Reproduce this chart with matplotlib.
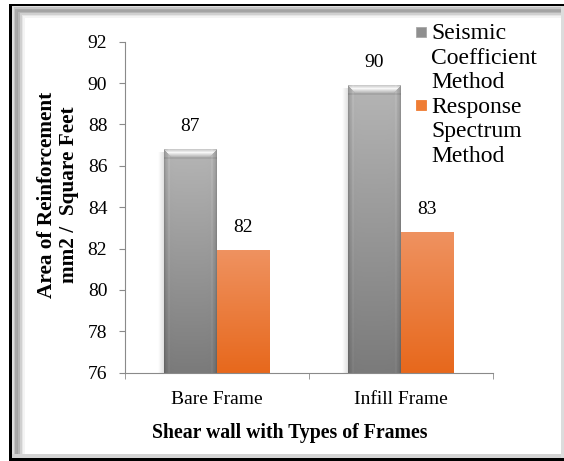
import matplotlib
matplotlib.use("Agg")
import matplotlib.pyplot as plt
import numpy as np
from matplotlib.lines import Line2D
from matplotlib.patches import Rectangle

# chart data
categories = ["Bare Frame", "Infill Frame"]
seismic_coefficient = [86.8, 89.9]
response_spectrum = [81.9, 82.8]
series_lines = [["Seismic", "Coefficient", "Method"], ["Response", "Spectrum", "Method"]]
y_ticks = [76, 78, 80, 82, 84, 86, 88, 90, 92]
x_title = "Shear wall with Types of Frames"
y_title = "Area of Reinforcement\nmm2 /  Square Feet"

W, H = 564, 461
FS = 14
GRAY = "#8f8f8f"
ORANGE = "#ef7d35"
AXIS = "#8a8a8a"

plt.rcParams["font.family"] = ["Liberation Serif", "DejaVu Serif"]
plt.rcParams["font.size"] = FS


def fx(x):
    return x / W


def fy(y):
    return 1 - y / H


def px_rect(x0, y0, x1, y1, color):
    # rectangle in image pixels (origin top-left)
    fig.add_artist(Rectangle((fx(x0), fy(y1)), (x1 - x0) / W, (y1 - y0) / H,
                             transform=fig.transFigure, facecolor=color,
                             edgecolor="none", zorder=0))


def bar_pixels(patch, ylo):
    x0, w = patch.get_x(), patch.get_width()
    y1 = patch.get_y() + patch.get_height()
    p0 = ax.transData.transform((x0, ylo))
    p1 = ax.transData.transform((x0 + w, y1))
    return int(round(p1[0] - p0[0])), int(round(p1[1] - p0[1])), (x0, x0 + w, ylo, y1)


def gray_image(nx, ny):
    t = np.linspace(0, 1, ny)[:, None]
    base = np.repeat(0.71 - 0.23 * t, nx, axis=1)
    xs = np.arange(nx)[None, :]
    d = np.minimum(xs, nx - 1 - xs)
    img = base * (1 - 0.18 * np.exp(-d / 2.0))
    # faint light stripe just inside the dark edge
    img = np.where((d == 4) | (d == 5), img * 1.05, img)
    rows = np.arange(ny)[:, None]
    bevel = 8
    glow = np.clip(1 - np.abs(rows - 3.0) / 4.5, 0, 1)
    inside = (rows < bevel) & (d >= rows * 0.9)
    img = np.where(inside, img + (0.97 - img) * glow, img)
    img = np.where((rows >= bevel) & (rows <= bevel + 1), img * 0.92, img)
    return np.dstack([img, img, img]).clip(0, 1)


def orange_image(nx, ny):
    top = np.array([239, 146, 96]) / 255
    bot = np.array([231, 104, 28]) / 255
    t = np.linspace(0, 1, ny)[:, None, None]
    img = top + (bot - top) * t
    return np.repeat(img, nx, axis=1)


fig = plt.figure(figsize=(W / 100, H / 100), dpi=100)

# outer frame with inset shading
px_rect(0, 0, W, H, "white")
for i, c in enumerate(["#dedede", "#c4c4c4", "#a9a9a9", "#a4a4a4", "#b7b7b7", "#d0d0d0", "#e6e6e6", "#f4f4f4"]):
    o = 12 + i * 1.6
    px_rect(o, 6 + i * 1.5, o + 1.6, 456, c)
    px_rect(o, 6 + i * 1.5, 561, 6 + (i + 1) * 1.5, c)
px_rect(12, 454, 561, 457.5, "#d4d4d4")
px_rect(561, 6, W, 457.5, "#dcdcdc")
px_rect(9, 4, 12, H, "black")
px_rect(9, 4, W, 6.5, "black")
px_rect(9, 457.5, W, H, "black")

ax = fig.add_axes([fx(124.7), fy(372.7), 368 / W, 331 / H])
ax.set_facecolor("none")

x = np.arange(len(categories))
bw = 0.285
b1 = ax.bar(x - bw / 2, seismic_coefficient, bw, color=GRAY, zorder=2)
b2 = ax.bar(x + bw / 2, response_spectrum, bw, color=ORANGE, zorder=2)

ax.set_xlim(-0.5, len(categories) - 0.5)
ax.set_ylim(y_ticks[0], y_ticks[-1])
ax.set_yticks(y_ticks)
ax.set_xticks(x)
ax.set_xticklabels(categories)
ax.set_xticks(np.arange(len(categories) + 1) - 0.5, minor=True)

ylo = ax.get_ylim()[0]
for p in b1:
    nx, ny, ext = bar_pixels(p, ylo)
    ax.imshow(gray_image(nx, ny), extent=ext, aspect="auto", zorder=3, interpolation="bilinear")
    # soft shadow to the left
    sw = 6 * (ext[1] - ext[0]) / nx
    sh = np.zeros((1, 12, 4))
    sh[..., :3] = 0.45
    sh[..., 3] = np.linspace(0, 0.25, 12)
    ax.imshow(sh, extent=(ext[0] - sw, ext[0], ext[2], ext[3] - 0.15), aspect="auto",
              zorder=2.5, interpolation="bilinear")
for p in b2:
    nx, ny, ext = bar_pixels(p, ylo)
    ax.imshow(orange_image(nx, ny), extent=ext, aspect="auto", zorder=3, interpolation="bilinear")

for bars, vals in ((b1, seismic_coefficient), (b2, response_spectrum)):
    for p, v in zip(bars, vals):
        ax.annotate(f"{v:.0f}", (p.get_x() + p.get_width() / 2, v), xytext=(0, 16.5),
                    textcoords="offset points", ha="center", va="center", fontsize=FS,
                    zorder=5)

for s in ("top", "right"):
    ax.spines[s].set_visible(False)
for s in ("left", "bottom"):
    ax.spines[s].set_color(AXIS)
    ax.spines[s].set_zorder(4)
ax.tick_params(axis="y", which="major", direction="out", length=4.5, color=AXIS, pad=8,
               labelsize=FS)
ax.tick_params(axis="x", which="major", length=0, pad=13, labelsize=FS)
ax.tick_params(axis="x", which="minor", direction="out", length=4.5, color=AXIS)

fig.text(fx(290), fy(433), x_title, ha="center", va="center", fontsize=14.2,
         fontweight="bold")
fig.text(fx(58), fy(195), y_title, rotation=90, ha="center", va="center",
         multialignment="center", fontsize=15.3, fontweight="bold", linespacing=1.15)

# legend: marker beside first line of each series name
LFS = 17
handles, labels = [], []
for lines, col, edge in zip(series_lines, [GRAY, ORANGE], ["#a8a8a8", ORANGE]):
    for i, ln in enumerate(lines):
        if i == 0:
            handles.append(Line2D([], [], linestyle="none", marker="s", markersize=7.2,
                                  markerfacecolor=col, markeredgecolor=edge, markeredgewidth=0.6))
        else:
            handles.append(Line2D([], [], linestyle="none"))
        labels.append(ln)
fig.legend(handles, labels, loc="upper left", bbox_to_anchor=(fx(416.5), fy(23)),
           bbox_transform=fig.transFigure, frameon=False, fontsize=LFS,
           handlelength=0.42, handleheight=0.42, handletextpad=0.21, labelspacing=0.15,
           borderpad=0, borderaxespad=0)

fig.savefig("out.png", dpi=100)
